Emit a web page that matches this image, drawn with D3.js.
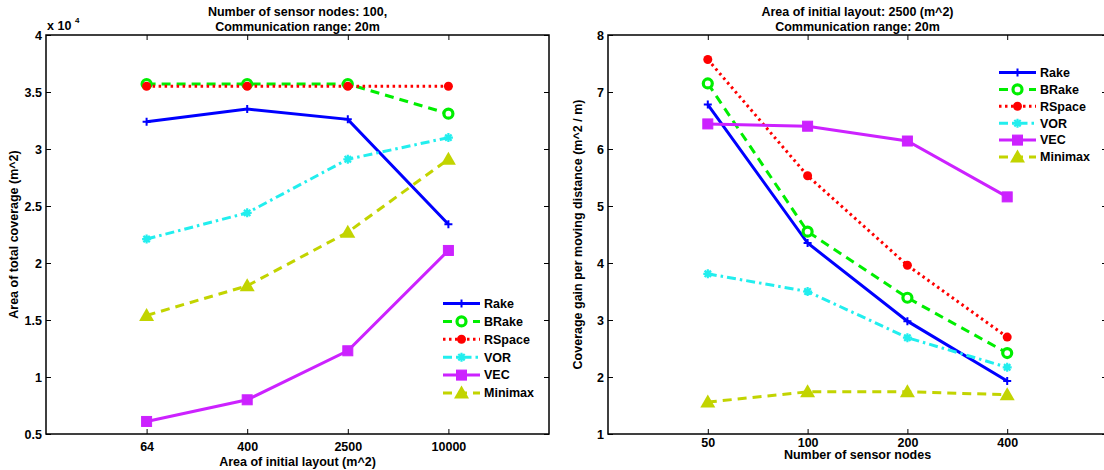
<!DOCTYPE html>
<html>
<head>
<meta charset="utf-8">
<script src="https://cdn.jsdelivr.net/npm/d3@7"></script>
<style>
  body { margin: 0; background: #fff; }
  text { font-family: "Liberation Sans", Arial, sans-serif; font-weight: bold; fill: #000; }
</style>
</head>
<body>
<div id="chart"></div>
<script>
// categories
var areaLabels = ["64", "400", "2500", "10000"];
var nodeLabels = ["50", "100", "200", "400"];
var seriesNames = ["Rake", "BRake", "RSpace", "VOR", "VEC", "Minimax"];

// left: area of total coverage (x 10^4 m^2)
var covRake    = [3.24, 3.35, 3.26, 2.34];
var covBRake   = [3.57, 3.57, 3.57, 3.31];
var covRSpace  = [3.55, 3.55, 3.55, 3.55];
var covVOR     = [2.21, 2.44, 2.91, 3.10];
var covVEC     = [0.61, 0.80, 1.23, 2.11];
var covMinimax = [1.54, 1.80, 2.27, 2.91];

// right: coverage gain per moving distance
var gainRake    = [6.78, 4.35, 2.98, 1.93];
var gainBRake   = [7.15, 4.55, 3.39, 2.42];
var gainRSpace  = [7.57, 5.53, 3.96, 2.70];
var gainVOR     = [3.81, 3.50, 2.69, 2.17];
var gainVEC     = [6.44, 6.40, 6.14, 5.16];
var gainMinimax = [1.56, 1.74, 1.74, 1.69];

var width = 1104, height = 470;

// styles
var styles = {
  Rake:    {color: "#0000ff", dash: null,        marker: "plus"},
  BRake:   {color: "#00ee00", dash: "9,6",       marker: "ocircle"},
  RSpace:  {color: "#ff0000", dash: "2.5,3.5",   marker: "dot"},
  VOR:     {color: "#22eeee", dash: "9,4,2.5,4", marker: "star"},
  VEC:     {color: "#cc22ff", dash: null,        marker: "square"},
  Minimax: {color: "#c2d400", dash: "9,6",       marker: "triangle"}
};

var svg = d3.select("#chart").append("svg")
    .attr("width", width)
    .attr("height", height);

function drawMarker(g, type, color, cx, cy) {
  if (type == "plus") {
    g.append("path").attr("d", "M" + (cx - 4) + "," + cy + "H" + (cx + 4) + "M" + cx + "," + (cy - 4) + "V" + (cy + 4))
      .attr("stroke", color).attr("stroke-width", 2);
  } else if (type == "ocircle") {
    g.append("circle").attr("cx", cx).attr("cy", cy).attr("r", 4.5)
      .attr("fill", "#fff").attr("stroke", color).attr("stroke-width", 3.2);
  } else if (type == "dot") {
    g.append("circle").attr("cx", cx).attr("cy", cy).attr("r", 4.5).attr("fill", color);
  } else if (type == "star") {
    var p = "";
    for (var a = 0; a < 4; a++) {
      var ang = a * Math.PI / 4;
      var dx = Math.cos(ang) * 4.5, dy = Math.sin(ang) * 4.5;
      p += "M" + (cx - dx) + "," + (cy - dy) + "L" + (cx + dx) + "," + (cy + dy);
    }
    g.append("path").attr("d", p).attr("stroke", color).attr("stroke-width", 2.2);
  } else if (type == "square") {
    g.append("rect").attr("x", cx - 5).attr("y", cy - 5).attr("width", 10).attr("height", 10)
      .attr("fill", color).attr("stroke", color).attr("stroke-width", 1);
  } else if (type == "triangle") {
    g.append("path").attr("d", "M" + cx + "," + (cy - 7.5) + "L" + (cx + 7.5) + "," + (cy + 5.5) + "L" + (cx - 7.5) + "," + (cy + 5.5) + "Z")
      .attr("fill", color);
  }
}

function panel(opt) {
  var x = d3.scaleLinear().domain([0, 5]).range([opt.left, opt.right]);
  var y = d3.scaleLinear().domain(opt.yDomain).range([opt.bottom, opt.top]);
  var g = svg.append("g");

  // inward ticks on all four sides
  var xb = d3.axisBottom(x).tickValues([1, 2, 3, 4])
      .tickFormat(function(i) { return opt.cats[i - 1]; })
      .tickSizeInner(-5).tickSizeOuter(0).tickPadding(opt.xPad);
  var xt = d3.axisTop(x).tickValues([1, 2, 3, 4]).tickFormat("")
      .tickSizeInner(-5).tickSizeOuter(0);
  var yl = d3.axisLeft(y).tickValues(opt.yTicks).tickFormat(d3.format(""))
      .tickSizeInner(-5).tickSizeOuter(0).tickPadding(4);
  var yr = d3.axisRight(y).tickValues(opt.yTicks).tickFormat("")
      .tickSizeInner(-5).tickSizeOuter(0);

  [[xb, "translate(0," + opt.bottom + ")"], [xt, "translate(0," + opt.top + ")"],
   [yl, "translate(" + opt.left + ",0)"], [yr, "translate(" + opt.right + ",0)"]].forEach(function(a) {
    var ag = g.append("g").attr("transform", a[1]).call(a[0]);
    ag.select(".domain").remove();
    ag.selectAll("line").attr("stroke", "#000").attr("stroke-width", 1);
    ag.selectAll("text").style("font-size", "12.5px").attr("fill", "#000");
  });

  g.append("rect")
    .attr("x", opt.left).attr("y", opt.top)
    .attr("width", opt.right - opt.left).attr("height", opt.bottom - opt.top)
    .attr("fill", "none").attr("stroke", "#000").attr("stroke-width", 1.5);

  // series
  var line = d3.line().x(function(d, i) { return x(i + 1); }).y(function(d) { return y(d); });
  seriesNames.forEach(function(name, k) {
    var s = styles[name];
    var vals = opt.data[k];
    g.append("path").datum(vals)
      .attr("d", line)
      .attr("fill", "none")
      .attr("stroke", s.color)
      .attr("stroke-width", 3)
      .attr("stroke-dasharray", s.dash);
    vals.forEach(function(v, i) { drawMarker(g, s.marker, s.color, x(i + 1), y(v)); });
  });

  // legend
  seriesNames.forEach(function(name, k) {
    var s = styles[name];
    var ly = opt.legY + k * opt.legStep;
    g.append("line")
      .attr("x1", opt.legX).attr("x2", opt.legX + 37)
      .attr("y1", ly).attr("y2", ly)
      .attr("stroke", s.color).attr("stroke-width", 3)
      .attr("stroke-dasharray", s.dash);
    drawMarker(g, s.marker, s.color, opt.legX + 18.5, ly);
    g.append("text").attr("x", opt.legX + 41).attr("y", ly).attr("dy", "0.35em")
      .style("font-size", "12.5px").text(name);
  });

  // titles
  var cx = (opt.left + opt.right) / 2;
  opt.title.forEach(function(t, i) {
    g.append("text").attr("x", cx).attr("y", 12 + i * 15).attr("dy", "0.35em")
      .attr("text-anchor", "middle").style("font-size", "12.5px").text(t);
  });
  g.append("text").attr("x", cx).attr("y", opt.xLabY).attr("dy", "0.35em")
    .attr("text-anchor", "middle").style("font-size", "12.5px").text(opt.xLabel);
  g.append("text")
    .attr("transform", "translate(" + opt.yLabX + "," + ((opt.top + opt.bottom) / 2) + ") rotate(-90)")
    .attr("dy", "0.35em").attr("text-anchor", "middle").style("font-size", "12.5px").text(opt.yLabel);
  return g;
}

var left = panel({
  left: 46, right: 549, top: 35, bottom: 434,
  yDomain: [0.5, 4], yTicks: d3.range(0.5, 4.01, 0.5),
  cats: areaLabels, xPad: 8,
  data: [covRake, covBRake, covRSpace, covVOR, covVEC, covMinimax],
  legX: 443, legY: 303.5, legStep: 17.9,
  title: ["Number of sensor nodes: 100,", "Communication range: 20m"],
  xLabel: "Area of initial layout (m^2)", xLabY: 462,
  yLabel: "Area of total coverage (m^2)", yLabX: 14
});
// exponent label
left.append("text").attr("x", 47).attr("y", 30).style("font-size", "12.5px").text("x 10");
left.append("text").attr("x", 75).attr("y", 23).style("font-size", "8px").text("4");

panel({
  left: 608, right: 1107, top: 35, bottom: 434,
  yDomain: [1, 8], yTicks: d3.range(1, 8.01, 1),
  cats: nodeLabels, xPad: 4,
  data: [gainRake, gainBRake, gainRSpace, gainVOR, gainVEC, gainMinimax],
  legX: 999, legY: 72.5, legStep: 16.9,
  title: ["Area of initial layout: 2500 (m^2)", "Communication range: 20m"],
  xLabel: "Number of sensor nodes", xLabY: 455,
  yLabel: "Coverage gain per moving distance (m^2 / m)", yLabX: 578
});
</script>
</body>
</html>
